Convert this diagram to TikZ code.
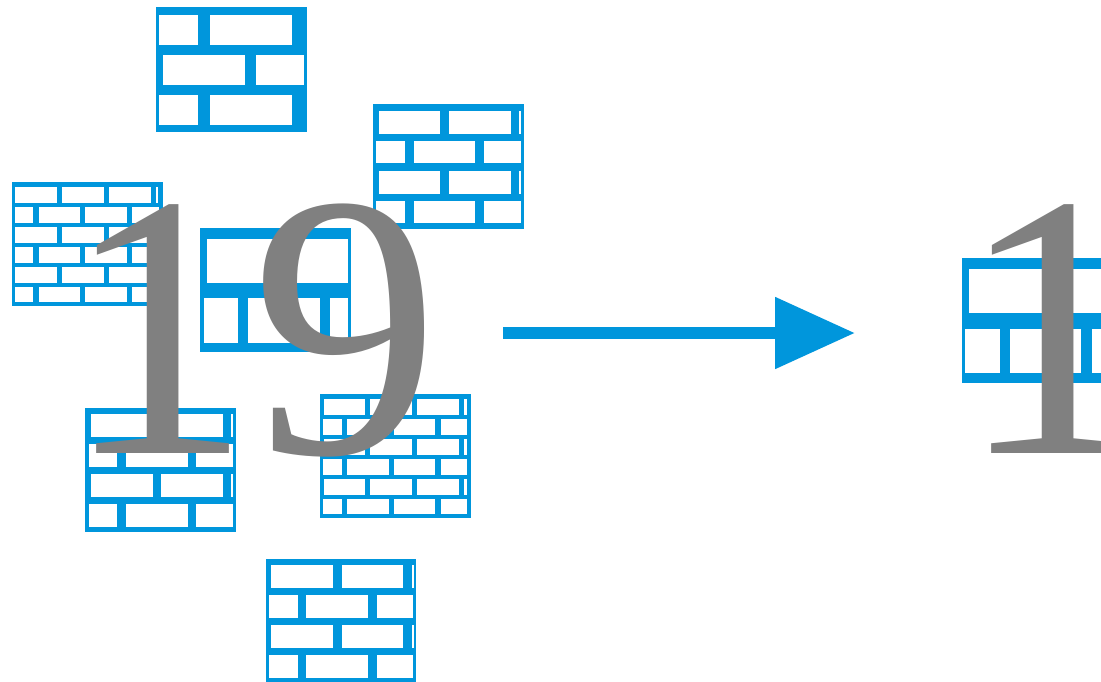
\documentclass[tikz,border=0pt]{standalone}
\usepackage{fontspec}
\setmainfont{Liberation Serif}
\usetikzlibrary{arrows.meta}
\definecolor{brick}{HTML}{0096DC}
\definecolor{numgray}{HTML}{808080}
\tikzset{
  wallbg/.style={fill=brick,draw=none},
  gap/.style={fill=white,draw=none},
  bignum/.style={text=numgray,inner sep=0pt,anchor=base west,font=\fontsize{377}{377}\selectfont},
  flowarrow/.style={draw=brick,line width=12pt,-{Triangle[length=80pt,width=69pt]}},
  pics/wallwide/.style={code={
    \fill[wallbg] (0,0) rectangle (150.5,124.3);
    \foreach \yy in {8,87.7}{
      \fill[gap] (3.3,\yy) rectangle ++(39,30);
      \fill[gap] (53.7,\yy) rectangle ++(82.3,30);
    }
    \fill[gap] (7,47.7) rectangle ++(82.3,30);
    \fill[gap] (100.3,47.7) rectangle ++(47.4,30);
  }},
  pics/wallfour/.style={code={
    \fill[wallbg] (0,0) rectangle (150.5,124.3);
    \foreach \yy in {6.7,66.7}{
      \fill[gap] (5.7,\yy) rectangle ++(61.6,22.5);
      \fill[gap] (76,\yy) rectangle ++(61.7,22.5);
      \fill[gap] (146,\yy) rectangle ++(2,22.5);
    }
    \foreach \yy in {36.7,96.7}{
      \fill[gap] (3.3,\yy) rectangle ++(28.7,22.3);
      \fill[gap] (40.7,\yy) rectangle ++(61.6,22.3);
      \fill[gap] (111,\yy) rectangle ++(36.7,22.3);
    }
  }},
  pics/wallsix/.style={code={
    \fill[wallbg] (0,0) rectangle (150.5,124.3);
    \foreach \yy in {5.3,45.3,85.3}{
      \fill[gap] (3.3,\yy) rectangle ++(41.4,15.5);
      \fill[gap] (50,\yy) rectangle ++(41.7,15.5);
      \fill[gap] (97,\yy) rectangle ++(41.7,15.5);
      \fill[gap] (144,\yy) rectangle ++(2.3,15.5);
    }
    \foreach \yy in {25.3,65.3,105}{
      \fill[gap] (2.7,\yy) rectangle ++(18.6,15.3);
      \fill[gap] (26.7,\yy) rectangle ++(41.6,15.3);
      \fill[gap] (73.3,\yy) rectangle ++(41.7,15.3);
      \fill[gap] (120.3,\yy) rectangle ++(26.7,15.3);
    }
  }},
  pics/wallwindow/.style={code={
    \fill[wallbg] (0,0) rectangle (151,124.5);
    \fill[gap] (6.7,11) rectangle (147.7,55.3);
    \fill[gap] (3.3,70.7) rectangle (37.7,115);
    \fill[gap] (47.7,70.7) rectangle (119.3,115);
    \fill[gap] (129.7,70.7) rectangle (147.7,115);
  }}
}
\begin{document}
\begin{tikzpicture}[x=1pt,y=-1pt]
\useasboundingbox (0,0) rectangle (1101,681);
\fill[white] (0,0) rectangle (1101,681);
\clip (0,0) rectangle (1101,681);
\pic at (156,7.3) {wallwide};
\pic at (373,104.3) {wallfour};
\pic at (12,182) {wallsix};
\pic at (200.3,227.7) {wallwindow};
\pic at (320.3,394) {wallsix};
\pic at (85.3,407.7) {wallfour};
\pic at (265.7,558.7) {wallfour};
\pic at (962,258) {wallwindow};
\coordinate (arrowstart) at (503,333);
\coordinate (arrowend) at (855,333);
\draw[flowarrow] (arrowstart) -- (arrowend);
\node[bignum] (manycount) at (63,453) {19};
\node[bignum] (onecount) at (958,453) {1};
\end{tikzpicture}
\end{document}
